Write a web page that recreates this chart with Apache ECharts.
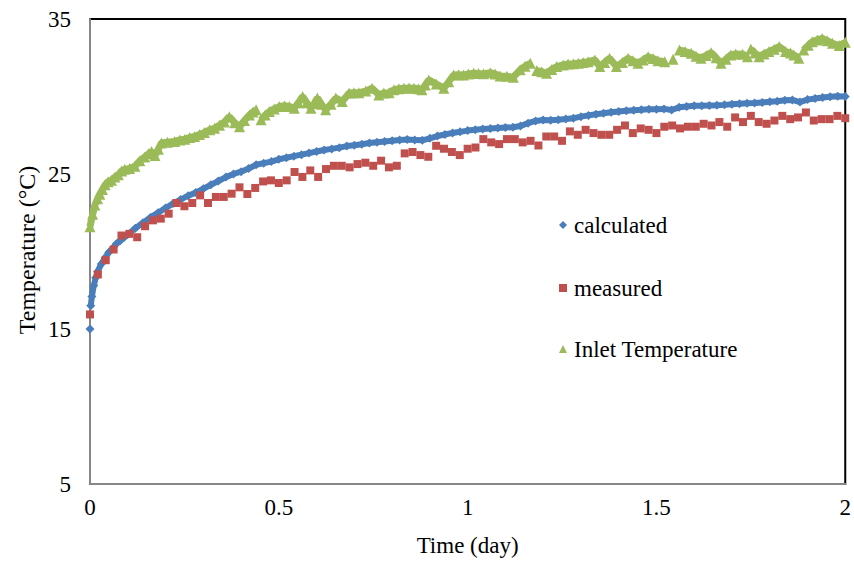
<!DOCTYPE html>
<html>
<head>
<meta charset="utf-8">
<script src="https://cdn.jsdelivr.net/npm/echarts@6/dist/echarts.min.js"></script>
<style>
html,body{margin:0;padding:0;background:#fff;}
#chart{width:854px;height:562px;}
</style>
</head>
<body>
<div id="chart"></div>
<script>
// ---- data ----
const xTicks = [0, 0.5, 1, 1.5, 2];
const yTicks = [5, 15, 25, 35];
const seriesNames = ['calculated', 'measured', 'Inlet Temperature'];

// calculated (null = break in the drawn band)
const calcTime = [0, 0.001, 0.002, 0.005, 0.010, 0.015, 0.020, 0.030, 0.040, 0.050, 0.060, 0.070, 0.080, 0.090, 0.100,
  0.120, 0.140, 0.160, 0.180, 0.200, 0.220, 0.240, 0.260, 0.280, 0.300, 0.320, 0.340, 0.360, 0.380, 0.400,
  0.420, 0.440, 0.460, 0.480, 0.500, 0.520, 0.540, 0.560, 0.580, 0.600, 0.620, 0.640, 0.660, 0.680, 0.700,
  0.720, 0.740, 0.760, 0.780, 0.800, 0.820, 0.840, 0.860, 0.880, 0.900, 0.920, 0.940, 0.960, 0.980, 1.000,
  1.020, 1.040, 1.060, 1.080, 1.100, 1.120, 1.140, 1.160, 1.180, 1.200, 1.220, 1.240, 1.260, 1.280, 1.300,
  1.320, 1.340, 1.360, 1.380, 1.400, 1.420, 1.440, 1.460, 1.480, 1.500, 1.520, 1.540, 1.560, 1.580, 1.600,
  1.620, 1.640, 1.660, 1.680, 1.700, 1.720, 1.740, 1.760, 1.780, 1.800, 1.820, 1.840, 1.860, 1.880, 1.900,
  1.920, 1.940, 1.960, 1.980, 2.000];
const calcTemp = [15.0, null, 16.5, 17.1, 17.8, 18.3, 18.7, 19.2, 19.6, 19.95, 20.2, 20.5, 20.7, 20.9, 21.1,
  21.5, 21.85, 22.2, 22.5, 22.8, 23.1, 23.35, 23.6, 23.8, 24.05, 24.3, 24.55, 24.8, 25.0, 25.15,
  25.35, 25.6, 25.7, 25.8, 25.95, 26.05, 26.15, 26.25, 26.35, 26.45, 26.55, 26.62, 26.7, 26.8, 26.85,
  26.92, 27.0, 27.05, 27.1, 27.15, 27.2, 27.22, 27.2, 27.17, 27.3, 27.45, 27.55, 27.65, 27.72, 27.8,
  27.85, 27.9, 27.93, 27.97, 28.0, 28.02, 28.1, 28.28, 28.42, 28.48, 28.47, 28.5, 28.55, 28.6, 28.7,
  28.78, 28.86, 28.92, 28.98, 29.03, 29.08, 29.12, 29.15, 29.17, 29.18, 29.2, 29.13, 29.3, 29.36, 29.4,
  29.41, 29.42, 29.43, 29.46, 29.5, 29.53, 29.56, 29.58, 29.62, 29.66, 29.7, 29.76, 29.78, 29.64, 29.8,
  29.87, 29.93, 29.98, 30.02, 30.0];

// measured, one reading every 30 min (1/48 day) from t = 0
const measuredStepDay = 1 / 48;
const measuredTemp = [15.94, 18.52, 19.44, 20.13, 21.03, 21.14, 20.92, 21.63, 22.01, 22.12,
  22.44, 23.13, 22.92, 23.13, 23.62, 23.13, 23.52, 23.52, 23.73, 24.14,
  23.71, 24.10, 24.52, 24.59, 24.42, 24.59, 25.13, 24.81, 25.23, 24.81,
  25.32, 25.53, 25.53, 25.43, 25.64, 25.73, 25.53, 25.86, 25.43, 25.53,
  26.33, 26.42, 26.22, 26.11, 26.82, 26.63, 26.42, 26.22, 26.63, 26.71,
  27.25, 27.04, 26.93, 27.25, 27.25, 27.04, 27.14, 26.84, 27.42, 27.42,
  27.14, 27.75, 27.53, 27.85, 27.64, 27.53, 27.53, 27.85, 28.13, 27.64,
  27.94, 27.85, 27.64, 28.05, 28.13, 27.94, 28.05, 28.05, 28.24, 28.13,
  28.35, 28.05, 28.65, 28.35, 28.75, 28.35, 28.24, 28.45, 28.75, 28.54,
  28.65, 28.97, 28.45, 28.54, 28.54, 28.75, 28.6];

// inlet temperature (null = gap in the band)
const inletTime = [0.000, 0.007, 0.013, 0.020, 0.026, 0.033, 0.040, 0.048, 0.057, 0.066, 0.075, 0.084, 0.092,
  0.105, 0.119, 0.132, 0.145, 0.155, 0.163, 0.172, 0.181, 0.189, 0.205, 0.224, 0.238, 0.251, 0.264, 0.277,
  0.290, 0.303, 0.317, 0.330, 0.343, 0.356, 0.369, 0.383, 0.396, 0.409, 0.422, 0.432, 0.440, 0.446,
  0.453, 0.464, 0.475, 0.488, 0.501, 0.515, 0.528, 0.541, 0.552, 0.563, 0.574, 0.585, 0.594, 0.602,
  0.613, 0.624, 0.638, 0.651, 0.668, 0.686, 0.699, 0.712, 0.730, 0.747, 0.765, 0.778, 0.792, 0.805,
  0.818, 0.831, 0.845, 0.858, 0.870, 0.879, 0.888, 0.897, 0.917, 0.937, 0.950, 0.963, 0.976, 0.989,
  1.002, 1.016, 1.029, 1.042, 1.060, 1.073, 1.086, 1.104, 1.121, 1.139, 1.152, 1.166, 1.175,
  1.183, 1.196, 1.209, 1.223, 1.236, 1.253, 1.266, 1.280, 1.293, 1.306, 1.319, 1.337, 1.350, 1.363,
  1.376, 1.394, 1.410, 1.425, 1.438, 1.451, 1.465, 1.478, 1.491, 1.504, 1.522, 1.533, 1.544, 1.553,
  1.561, 1.576, 1.592, 1.605, 1.618, 1.632, 1.645, 1.658, 1.671, 1.684, 1.697, 1.710, 1.728, 1.741, 1.745,
  1.750, 1.761, 1.772, 1.785, 1.798, 1.812, 1.825, 1.842, 1.855, 1.864, 1.877, 1.884,
  1.890, 1.902, 1.913, 1.926, 1.939, 1.952, 1.966, 1.984, 2.000];
const inletTemp = [21.6, 22.4, 23.0, 23.4, 23.7, 24.0, 24.3, 24.5, 24.6, 24.8, 24.95, 25.2, 25.3,
  25.35, 25.5, 25.85, 26.1, 26.3, 26.45, 26.2, 26.6, 27.0, 27.05, 27.1, 27.2, 27.25, 27.35, 27.42,
  27.55, 27.68, 27.85, 27.95, 28.15, 28.35, 28.7, 28.3, 28.05, 28.45, 28.8, 29.0, 29.15, null,
  28.5, 28.8, 29.03, 29.2, 29.35, 29.4, 29.35, 29.25, 29.6, 30.0, 29.6, 29.25, 29.55, 29.9,
  29.5, 29.14, 29.5, 29.9, 29.68, 30.22, 30.25, 30.25, 30.35, 30.54, 30.1, 30.22, 30.25, 30.43,
  30.5, 30.54, 30.55, 30.54, 30.5, 30.43, 30.75, 31.07, 30.8, 30.54, 30.95, 31.39, 31.4, 31.39,
  31.45, 31.5, 31.48, 31.46, 31.54, 31.45, 31.33, 31.3, 31.25, 31.72, 31.95, 32.15, null,
  31.67, 31.6, 31.5, 31.75, 31.93, 32.04, 32.1, 32.12, 32.15, 32.2, 32.25, 32.36, 31.93, 32.2,
  32.47, 31.93, 32.2, 32.47, 32.3, 32.15, 32.35, 32.57, 32.45, 32.31, 32.25, null, 32.4, null,
  33.0, 32.9, 32.79, 32.6, 32.47, 32.65, 32.83, 32.5, 32.15, 32.4, 32.68, 32.75, 32.73, 32.57, null,
  33.07, 32.8, 32.57, 32.75, 32.9, 33.05, 33.22, 32.9, 32.8, 32.68, 32.47, null,
  33.0, 33.3, 33.54, 33.65, 33.75, 33.6, 33.43, 33.29, 33.5];

// ---- build ----
const pair = (t, v) => [t, v == null ? '-' : v];
const calcData = calcTime.map((t, i) => pair(t, calcTemp[i]));
const measData = measuredTemp.map((v, i) => [i * measuredStepDay, v]);
const inletData = inletTime.map((t, i) => pair(t, inletTemp[i]));

const FONT = '"Liberation Serif","Times New Roman",serif';
const COLORS = ['#4A7EBB', '#C0504D', '#9BBB59'];

const chart = echarts.init(document.getElementById('chart'), null, {renderer: 'svg'});
const legendBase = {
  orient: 'vertical', left: 554, itemWidth: 8, itemHeight: 8, itemGap: 0,
  selectedMode: false,
  textStyle: {fontFamily: FONT, fontSize: 23, color: '#000', lineHeight: 24, padding: [0, 0, 0, 2]}
};
chart.setOption({
  animation: false,
  backgroundColor: '#fff',
  color: COLORS,
  grid: {left: 90, right: 6, top: 19, bottom: 77, show: true, borderColor: '#000', borderWidth: 2, backgroundColor: 'transparent'},
  xAxis: {
    type: 'value', min: xTicks[0], max: xTicks[xTicks.length - 1], interval: 0.5,
    name: 'Time (day)', nameLocation: 'middle', nameGap: 50,
    nameTextStyle: {fontFamily: FONT, fontSize: 23, color: '#000'},
    axisLine: {show: true, lineStyle: {color: '#868686', width: 2}},
    axisTick: {show: false},
    splitLine: {show: false},
    axisLabel: {fontFamily: FONT, fontSize: 23, color: '#000', margin: 12}
  },
  yAxis: {
    type: 'value', min: yTicks[0], max: yTicks[yTicks.length - 1], interval: 10,
    axisLine: {show: true, lineStyle: {color: '#868686', width: 2}},
    axisTick: {show: false},
    splitLine: {show: false},
    axisLabel: {fontFamily: FONT, fontSize: 23, color: '#000', margin: 19}
  },
  graphic: [{
    type: 'text', x: 27, y: 250, rotation: Math.PI / 2,
    style: {text: 'Temperature (°C)', font: '24px ' + FONT, fill: '#000', align: 'center', verticalAlign: 'middle'}
  }],
  legend: [
    Object.assign({}, legendBase, {top: 208, data: [{name: seriesNames[0], icon: 'diamond'}]}),
    Object.assign({}, legendBase, {top: 271, data: [{name: seriesNames[1], icon: 'rect'}]}),
    Object.assign({}, legendBase, {top: 332, data: [{name: seriesNames[2], icon: 'triangle'}]})
  ],
  series: [
    {
      name: seriesNames[0], type: 'line', data: calcData, symbol: 'diamond', symbolSize: 9,
      showAllSymbol: true, connectNulls: false, z: 2,
      lineStyle: {width: 6, color: COLORS[0]}, itemStyle: {color: COLORS[0]}
    },
    {
      name: seriesNames[1], type: 'scatter', data: measData, symbol: 'rect', symbolSize: 8, z: 3,
      itemStyle: {color: COLORS[1], opacity: 1}
    },
    {
      name: seriesNames[2], type: 'line', data: inletData, symbol: 'triangle', symbolSize: 11,
      showAllSymbol: true, connectNulls: false, z: 2,
      lineStyle: {width: 7, color: COLORS[2]}, itemStyle: {color: COLORS[2]}
    }
  ]
});
</script>
</body>
</html>
